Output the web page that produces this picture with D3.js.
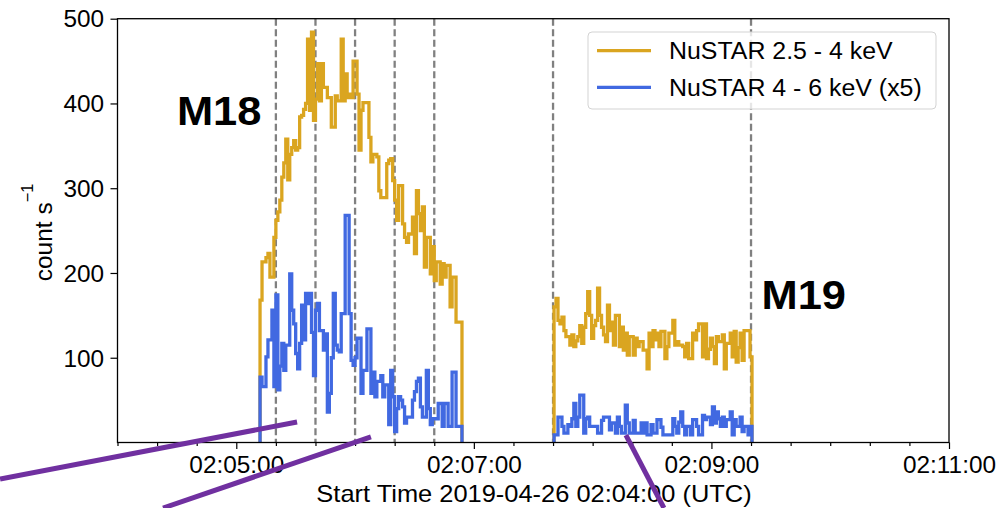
<!DOCTYPE html>
<html><head><meta charset="utf-8">
<script src="https://cdn.jsdelivr.net/npm/d3@7"></script>
<style>html,body{margin:0;padding:0;background:#fff;} svg{display:block;font-family:"Liberation Sans",Arial,Helvetica,sans-serif;}</style>
</head><body><svg id="chart" width="1000" height="508"></svg>
<script>
// ---------------- data ----------------
const seriesNames = ["NuSTAR 2.5 - 4 keV", "NuSTAR 4 - 6 keV (x5)"];
const seriesColors = ["#daa520", "#4169e1"];
const binSeconds = 1;
const m18Start = "2019-04-26T02:05:12.000Z";
const m19Start = "2019-04-26T02:07:40.500Z";

const m18Low = [168,213,213,218,223,195,195,242,262,272,286,313,330,358,310,340,348,356,345,348,
384,386,393,400,476,392,484,380,405,447,403,447,419,419,407,407,372,372,409,403,
403,476,403,435,407,411,407,450,450,411,345,392,401,401,401,360,331,340,340,337,
297,289,289,289,329,333,335,309,286,262,303,303,258,242,236,246,246,266,223,297,
270,250,278,207,242,242,199,231,191,213,213,187,211,195,209,209,160,195,195,142,
142,142];
const m18High = [77,66,66,101,121,121,156,66,174,62,90,117,85,115,115,199,156,140,105,87,
117,162,121,176,164,176,130,79,156,164,132,132,109,128,36,58,100,176,115,109,
107,152,152,268,268,152,97,91,100,123,123,58,85,85,134,134,58,83,54,72,
72,79,54,68,68,21,85,54,13,40,54,50,42,23,30,30,30,50,60,72,
76,42,30,30,85,40,21,28,28,28,46,46,19,46,46,19,19,83,83,19,
19,19];
const m19Low = [160,170,144,140,148,132,125,125,115,127,113,120,125,138,117,136,152,178,150,123,
138,144,182,150,136,127,119,162,132,142,115,150,150,113,136,109,129,103,125,125,
103,123,113,119,119,109,109,87,129,113,132,121,129,113,131,131,99,113,129,129,
144,115,119,115,115,113,101,117,99,99,129,121,132,140,140,101,140,99,110,123,
113,93,125,119,119,127,87,117,117,129,101,131,95,112,129,97,132,132,132,101];
const m19High = [9,9,30,30,19,11,11,21,19,28,46,19,30,56,56,11,28,30,19,19,
19,19,11,11,26,30,30,30,15,23,23,11,30,19,11,11,44,23,11,11,
26,11,11,11,23,11,23,9,9,21,11,11,27,27,18,9,9,9,9,9,
28,19,11,24,36,19,9,19,19,9,27,27,19,9,9,32,27,30,30,21,
42,23,36,28,19,30,19,27,27,36,9,27,19,19,30,13,19,19,9,19];

const xDomain = ["2019-04-26T02:04:00Z", "2019-04-26T02:11:00Z"];
const xMajorTicks = ["2019-04-26T02:05:00Z", "2019-04-26T02:07:00Z", "2019-04-26T02:09:00Z", "2019-04-26T02:11:00Z"];
const xTickLabels = ["02:05:00", "02:07:00", "02:09:00", "02:11:00"];
const xMinorStepSeconds = 20;
const yDomain = [0, 500];
const yTicks = [100, 200, 300, 400, 500];
const markerTimes = ["2019-04-26T02:05:20Z", "2019-04-26T02:05:40Z", "2019-04-26T02:06:00Z",
  "2019-04-26T02:06:20Z", "2019-04-26T02:06:40Z", "2019-04-26T02:07:40Z", "2019-04-26T02:09:20Z"];
const flareLabels = ["M18", "M19"];
const flareLabelTimes = ["2019-04-26T02:04:30Z", "2019-04-26T02:09:25.3Z"];
const flareLabelValues = [374, 158];
const xLabel = "Start Time 2019-04-26 02:04:00 (UTC)";
const yLabel = "count s";
const yLabelExp = "\u22121";
// overlay strokes (seconds after 02:04:00, counts)
const overlaySeconds = [[-59.3, 90.7], [23.0, 128.0], [256.8, 276.0]];
const overlayValues = [[-43, 24.2], [-77.3, 6.5], [8.8, -77.3]];

// ---------------- chart ----------------
const svg = d3.select("#chart");
const L = 117.5, R = 949, T = 18.7, B = 442.5;
const SX = 1.06;
const x = d3.scaleUtc().domain(xDomain.map(d => new Date(d))).range([L, R]);
const y = d3.scaleLinear().domain(yDomain).range([B, T]);
const t0 = new Date(xDomain[0]).getTime();

svg.append("defs").append("clipPath").attr("id", "clip")
  .append("rect").attr("x", L).attr("y", T).attr("width", R - L).attr("height", B - T);

// dashed markers
svg.append("g").selectAll("line").data(markerTimes).join("line")
  .attr("x1", d => x(new Date(d))).attr("x2", d => x(new Date(d)))
  .attr("y1", T).attr("y2", B)
  .attr("stroke", "#808080").attr("stroke-width", 2.3).attr("stroke-dasharray", "7,3.5");

function stepPoints(startIso, values) {
  const s = new Date(startIso).getTime();
  const pts = [{t: new Date(s), v: 0}];
  values.forEach((v, i) => pts.push({t: new Date(s + i * binSeconds * 1000), v}));
  const end = new Date(s + values.length * binSeconds * 1000);
  pts.push({t: end, v: values[values.length - 1]});
  pts.push({t: end, v: 0});
  return pts;
}
const line = d3.line().x(d => x(d.t)).y(d => y(d.v)).curve(d3.curveStepAfter);
const dataG = svg.append("g").attr("clip-path", "url(#clip)");
const segs = [
  {start: m18Start, vals: m18Low, c: 0}, {start: m19Start, vals: m19Low, c: 0},
  {start: m18Start, vals: m18High, c: 1}, {start: m19Start, vals: m19High, c: 1}
];
dataG.selectAll("path").data(segs).join("path")
  .attr("d", d => line(stepPoints(d.start, d.vals)))
  .attr("fill", "none").attr("stroke", d => seriesColors[d.c])
  .attr("stroke-width", 3.3).attr("stroke-linejoin", "miter");

// frame
svg.append("rect").attr("x", L).attr("y", T).attr("width", R - L).attr("height", B - T)
  .attr("fill", "none").attr("stroke", "#000").attr("stroke-width", 1.3);

// x axis
const minor = d3.utcSecond.every(xMinorStepSeconds).range(new Date(xDomain[0]), new Date(new Date(xDomain[1]).getTime() + 1))
  .filter(d => !xMajorTicks.some(m => new Date(m).getTime() === d.getTime()));
const xMinorG = svg.append("g").attr("transform", `translate(0,${B})`)
  .call(d3.axisBottom(x).tickValues(minor).tickSize(3.5).tickFormat(""));
const xMajorG = svg.append("g").attr("transform", `translate(0,${B})`)
  .call(d3.axisBottom(x).tickValues(xMajorTicks.map(d => new Date(d))).tickSize(6.5)
    .tickFormat((d, i) => xTickLabels[i]));
[xMinorG, xMajorG].forEach(g => {
  g.select(".domain").remove();
  g.selectAll("line").attr("stroke", "#000").attr("stroke-width", 1.2);
});
xMajorG.selectAll("text").attr("y", 14.2).attr("dy", "0.71em")
  .attr("font-size", 23).attr("font-family", "Liberation Sans, Arial, sans-serif")
  .attr("fill", "#000").attr("transform", `scale(${SX},1)`);

// y axis
const yG = svg.append("g").attr("transform", `translate(${L},0)`)
  .call(d3.axisLeft(y).tickValues(yTicks).tickSize(7).tickPadding(5.7));
yG.select(".domain").remove();
yG.selectAll("line").attr("stroke", "#000").attr("stroke-width", 1.2);
yG.selectAll("text").attr("font-size", 23).attr("font-family", "Liberation Sans, Arial, sans-serif")
  .attr("fill", "#000").attr("dy", "0.36em").attr("transform", `scale(${SX},1)`);

// axis labels
svg.append("text").attr("transform", `translate(534,502) scale(${SX},1)`)
  .attr("text-anchor", "middle").attr("font-size", 24).attr("fill", "#000").text(xLabel);
const yl = svg.append("text").attr("transform", "translate(52,232.5) rotate(-90)")
  .attr("text-anchor", "middle").attr("font-size", 24.5).attr("fill", "#000");
yl.append("tspan").text(yLabel);
yl.append("tspan").attr("dy", -19).attr("font-size", 16.3).text(yLabelExp);

// flare labels
svg.append("g").selectAll("text").data(flareLabels).join("text")
  .attr("transform", (d, i) => `translate(${x(new Date(flareLabelTimes[i]))},${y(flareLabelValues[i])}) scale(${SX},1)`)
  .attr("font-size", 41).attr("font-weight", "bold").attr("fill", "#000").text(d => d);

// legend
const lg = svg.append("g");
lg.append("rect").attr("x", 588).attr("y", 32).attr("width", 348).attr("height", 77).attr("rx", 4)
  .attr("fill", "#fff").attr("fill-opacity", 0.8).attr("stroke", "#d3d3d3").attr("stroke-width", 1);
seriesNames.forEach((n, i) => {
  const yy = 50.7 + i * 36.6;
  lg.append("line").attr("x1", 597).attr("x2", 651).attr("y1", yy).attr("y2", yy)
    .attr("stroke", seriesColors[i]).attr("stroke-width", 3.3);
  lg.append("text").attr("transform", `translate(669,${yy + 8.3}) scale(${SX},1)`)
    .attr("font-size", 23.5).attr("fill", "#000").text(n);
});

// overlay strokes
svg.append("g").selectAll("line").data(overlaySeconds).join("line")
  .attr("x1", (d) => x(new Date(t0 + d[0] * 1000))).attr("x2", d => x(new Date(t0 + d[1] * 1000)))
  .attr("y1", (d, i) => y(overlayValues[i][0])).attr("y2", (d, i) => y(overlayValues[i][1]))
  .attr("stroke", "#7030a0").attr("stroke-width", 5).attr("stroke-linecap", "butt");
</script></body></html>
